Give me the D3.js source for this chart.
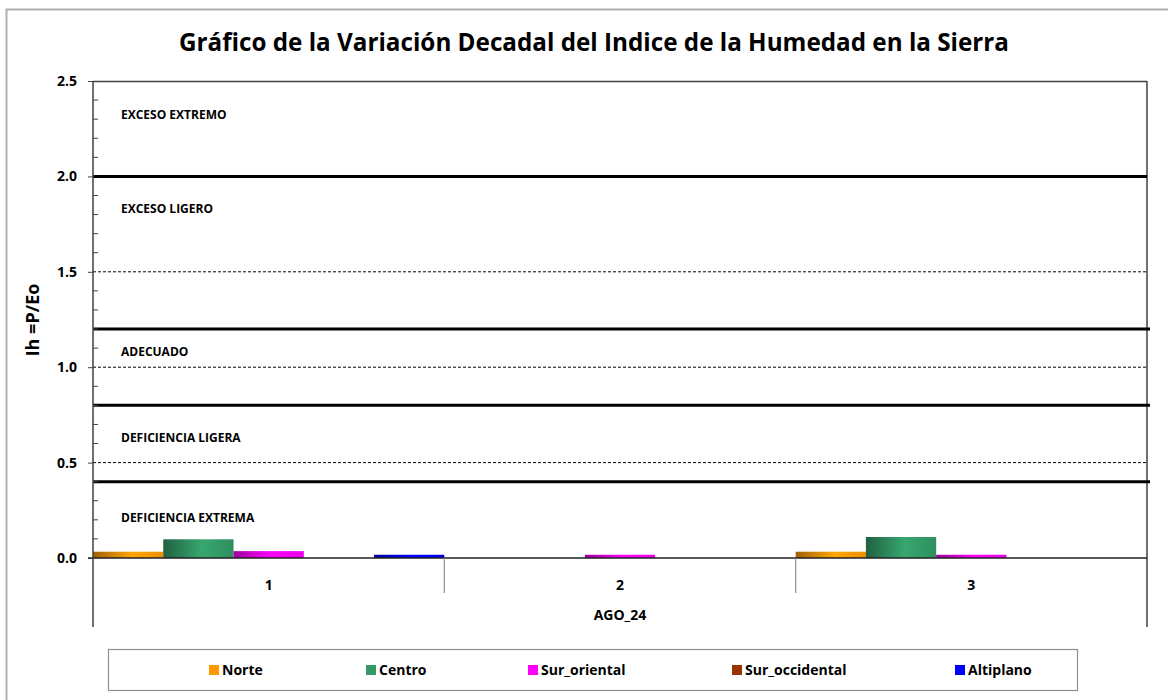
<!DOCTYPE html>
<html>
<head>
<meta charset="utf-8">
<script src="https://cdn.jsdelivr.net/npm/d3@7"></script>
<style>
  body { margin: 0; background: #fff; }
  text { font-family: "Open Sans", "Noto Sans", sans-serif; font-weight: bold; fill: #000; }
</style>
</head>
<body>
<svg id="chart" width="1168" height="700"></svg>
<script>
// data
const categories = ['1', '2', '3'];
const groupLabel = 'AGO_24';
const seriesNames = ['Norte', 'Centro', 'Sur_oriental', 'Sur_occidental', 'Altiplano'];
const seriesColors = ['#FF9900', '#339966', '#FF00FF', '#993300', '#0000FF'];
const norte = [0.033, 0, 0.033];
const centro = [0.098, 0, 0.11];
const surOriental = [0.036, 0.017, 0.017];
const surOccidental = [0, 0, 0];
const altiplano = [0.017, 0, 0];
const yTicks = [0, 0.5, 1.0, 1.5, 2.0, 2.5];
const thresholds = [2.0, 1.2, 0.8, 0.4];
const zoneLabels = ['EXCESO EXTREMO', 'EXCESO LIGERO', 'ADECUADO', 'DEFICIENCIA LIGERA', 'DEFICIENCIA EXTREMA'];
const zoneLevels = [2.32, 1.83, 1.08, 0.63, 0.21];

const allSeries = [norte, centro, surOriental, surOccidental, altiplano];

const svg = d3.select('#chart');

// plot area
const plotLeft = 93, plotRight = 1147, plotTop = 81, plotBottom = 558, catBottom = 627;

const y = d3.scaleLinear().domain([0, 2.5]).range([plotBottom, plotTop]);
const x0 = d3.scaleBand().domain(categories).range([plotLeft, plotRight]).padding(0);
const x1 = d3.scaleBand().domain(seriesNames).range([0, x0.bandwidth()]).padding(0);

// outer chart frame
svg.append('rect')
    .attr('x', 6.5).attr('y', 9.5)
    .attr('width', 1170).attr('height', 700)
    .attr('fill', 'none').attr('stroke', '#b0b0b0').attr('stroke-width', 2);

// title
svg.append('text')
    .attr('x', 594).attr('y', 51)
    .attr('text-anchor', 'middle')
    .attr('font-size', 25)
    .attr('textLength', 830).attr('lengthAdjust', 'spacingAndGlyphs')
    .text('Gráfico de la Variación Decadal del Indice de la Humedad en la Sierra');

// gradients for the bars
const defs = svg.append('defs');
seriesColors.forEach(function (c, i) {
    let g = defs.append('linearGradient').attr('id', 'grad' + i)
        .attr('x1', '0%').attr('x2', '100%').attr('y1', '0%').attr('y2', '0%');
    g.append('stop').attr('offset', '0%').attr('stop-color', d3.color(c).darker(1.3));
    g.append('stop').attr('offset', '55%').attr('stop-color', d3.color(c).brighter(0.25));
    g.append('stop').attr('offset', '100%').attr('stop-color', d3.color(c).darker(0.2));
});

// dashed gridlines
svg.append('g').selectAll('line')
    .data([0.5, 1.0, 1.5])
    .enter().append('line')
    .attr('x1', plotLeft).attr('x2', plotRight)
    .attr('y1', d => y(d)).attr('y2', d => y(d))
    .attr('stroke', '#000').attr('stroke-width', 1)
    .attr('stroke-dasharray', '3,2');

// top / right plot borders
svg.append('line').attr('x1', plotLeft).attr('x2', plotRight).attr('y1', plotTop + 0.5).attr('y2', plotTop + 0.5)
    .attr('stroke', '#404040').attr('stroke-width', 1.5);
svg.append('line').attr('x1', plotRight).attr('x2', plotRight).attr('y1', plotTop).attr('y2', catBottom)
    .attr('stroke', '#404040').attr('stroke-width', 1.5);

// zone labels
svg.append('g').selectAll('text')
    .data(zoneLabels)
    .enter().append('text')
    .attr('x', 121)
    .attr('y', (d, i) => y(zoneLevels[i]) + 4)
    .attr('font-size', 12)
    .text(d => d);

// threshold lines
svg.append('g').selectAll('line')
    .data(thresholds)
    .enter().append('line')
    .attr('x1', plotLeft).attr('x2', d => d === 2.0 ? plotRight : plotRight + 3)
    .attr('y1', d => y(d)).attr('y2', d => y(d))
    .attr('stroke', '#000').attr('stroke-width', 3);

// bars
const groups = svg.append('g').selectAll('g')
    .data(categories)
    .enter().append('g')
    .attr('transform', d => 'translate(' + x0(d) + ',0)');

groups.selectAll('rect')
    .data((d, ci) => seriesNames.map((s, si) => ({ s: s, si: si, v: allSeries[si][ci] })))
    .enter().append('rect')
    .filter(d => d.v > 0)
    .attr('x', d => x1(d.s))
    .attr('width', x1.bandwidth())
    .attr('y', d => y(d.v))
    .attr('height', d => y(0) - y(d.v))
    .attr('fill', d => 'url(#grad' + d.si + ')');

// zero line
svg.append('line').attr('x1', plotLeft - 5).attr('x2', plotRight).attr('y1', plotBottom).attr('y2', plotBottom)
    .attr('stroke', '#202020').attr('stroke-width', 1.5);

// y axis
const yAxis = d3.axisLeft(y).tickValues(yTicks).tickFormat(d3.format('.1f')).tickSize(5).tickPadding(11);
const yg = svg.append('g').attr('transform', 'translate(' + plotLeft + ',0)').call(yAxis);
yg.select('.domain').remove();
yg.selectAll('line').attr('stroke', '#404040');
yg.selectAll('text').attr('font-size', 14).attr('font-family', '"Open Sans", sans-serif').attr('font-weight', 'bold');

// minor ticks inside
svg.append('g').selectAll('line')
    .data(d3.range(1, 25).filter(i => i % 5 !== 0).map(i => i / 10))
    .enter().append('line')
    .attr('x1', plotLeft).attr('x2', plotLeft + 5)
    .attr('y1', d => y(d)).attr('y2', d => y(d))
    .attr('stroke', '#404040');

svg.append('line').attr('x1', plotLeft).attr('x2', plotLeft).attr('y1', plotTop).attr('y2', catBottom)
    .attr('stroke', '#404040').attr('stroke-width', 1.5);

// y label
svg.append('text')
    .attr('transform', 'translate(39,320) rotate(-90)')
    .attr('text-anchor', 'middle')
    .attr('font-size', 18)
    .text('Ih =P/Eo');

// category axis: separators and labels
svg.append('g').selectAll('line')
    .data(categories.slice(1))
    .enter().append('line')
    .attr('x1', d => x0(d)).attr('x2', d => x0(d))
    .attr('y1', plotBottom).attr('y2', 593)
    .attr('stroke', '#909090').attr('stroke-width', 1.2);

svg.append('g').selectAll('text')
    .data(categories)
    .enter().append('text')
    .attr('x', d => x0(d) + x0.bandwidth() / 2)
    .attr('y', 590)
    .attr('text-anchor', 'middle')
    .attr('font-size', 14)
    .text(d => d);

svg.append('text')
    .attr('x', (plotLeft + plotRight) / 2).attr('y', 620)
    .attr('text-anchor', 'middle')
    .attr('font-size', 14)
    .text(groupLabel);

// legend
svg.append('rect')
    .attr('x', 108.5).attr('y', 649.5).attr('width', 969).attr('height', 41)
    .attr('fill', '#fff').attr('stroke', '#909090').attr('stroke-width', 1.2);

const legendX = [209, 366, 528, 732, 955];
const lg = svg.append('g').selectAll('g')
    .data(seriesNames)
    .enter().append('g')
    .attr('transform', (d, i) => 'translate(' + legendX[i] + ',670)');
lg.append('rect')
    .attr('x', 0).attr('y', -5).attr('width', 10).attr('height', 10)
    .attr('fill', (d, i) => seriesColors[i]);
lg.append('text')
    .attr('x', 13).attr('y', 5)
    .attr('font-size', 14)
    .text(d => d);
</script>
</body>
</html>
